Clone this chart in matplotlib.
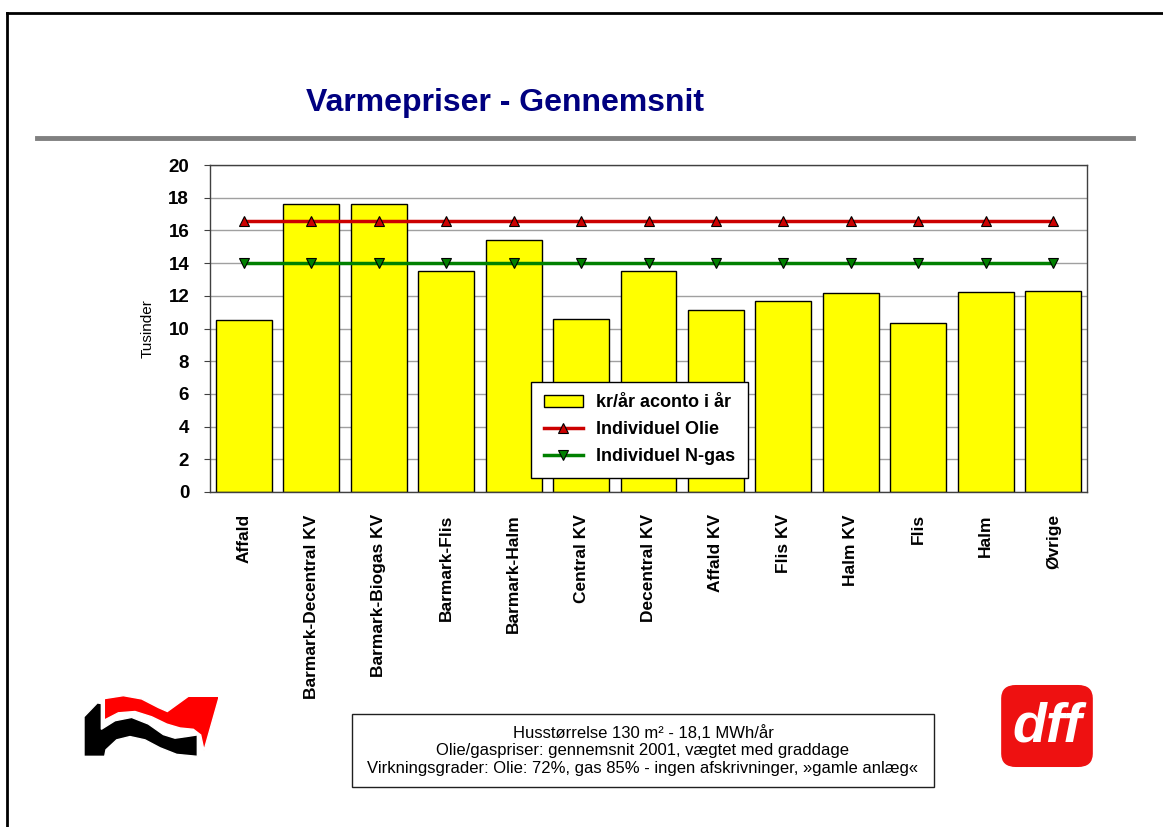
import matplotlib
matplotlib.use("Agg")
import matplotlib.pyplot as plt
from matplotlib.patches import Polygon, FancyBboxPatch, Rectangle
from matplotlib.lines import Line2D
import numpy as np

plt.rcParams['font.family'] = ['Liberation Sans', 'DejaVu Sans']

# data
categories = ['Affald', 'Barmark-Decentral KV', 'Barmark-Biogas KV', 'Barmark-Flis',
              'Barmark-Halm', 'Central KV', 'Decentral KV', 'Affald KV', 'Flis KV',
              'Halm KV', 'Flis', 'Halm', 'Øvrige']
aconto = [10.52, 17.6, 17.6, 13.54, 15.41, 10.58, 13.5, 11.11, 11.66, 12.19, 10.36, 12.21, 12.27]
olie = [16.6] * 13
ngas = [14.03] * 13

fig = plt.figure(figsize=(11.63, 8.27), dpi=100)

# axes placement in pixels of the 1163x827 canvas
W, H = 1163, 827
ax = fig.add_axes([210 / W, 1 - 492 / H, 877 / W, 327 / H])

x = np.arange(len(categories))
b = ax.bar(x, aconto, width=0.83, color='#FFFF00', edgecolor='black', linewidth=1,
           label='kr/år aconto i år', zorder=2)
l1, = ax.plot(x, olie, color='#CC0000', lw=2.5, marker='^', ms=7, mfc='#CC0000', mec='black',
              mew=0.8, label='Individuel Olie', zorder=3)
l2, = ax.plot(x, ngas, color='#008000', lw=2.5, marker='v', ms=7, mfc='#008000', mec='black',
              mew=0.8, label='Individuel N-gas', zorder=3)

ax.set_xlim(-0.5, len(categories) - 0.5)
ax.set_ylim(0, 20)
ax.set_yticks(range(0, 21, 2))
ax.yaxis.grid(True, color='#A0A0A0', lw=1, zorder=0)
ax.set_axisbelow(True)
ax.set_xticks(x)
ax.set_xticklabels(categories, rotation=90, fontsize=12.5, fontweight='bold', va='top')
for lbl in ax.get_yticklabels():
    lbl.set_fontweight('bold')
ax.tick_params(axis='y', labelsize=13.5, length=4, pad=11, color='#404040')
ax.tick_params(axis='x', length=0, pad=16)
for s in ax.spines.values():
    s.set_color('#404040')
    s.set_linewidth(1)
ax.set_ylabel('Tusinder', fontsize=11, labelpad=10)

leg = ax.legend([b, l1, l2], ['kr/år aconto i år', 'Individuel Olie', 'Individuel N-gas'],
                loc='lower left', bbox_to_anchor=(0.366, 0.043), borderaxespad=0,
                fancybox=False, edgecolor='black', framealpha=1,
                prop={'weight': 'bold', 'size': 13},
                handlelength=2.2, handletextpad=0.7, borderpad=0.7, labelspacing=0.55)
leg.get_frame().set_linewidth(1)

# title and rule
fig.text(505 / W, 1 - 103 / H, 'Varmepriser - Gennemsnit', color='#000080',
         fontsize=23, fontweight='bold', ha='center', va='center')
fig.add_artist(Line2D([37 / W, 1133 / W], [1 - 138 / H, 1 - 138 / H],
                      color='#808080', lw=3.5))

# page border (top and left only visible)
fig.add_artist(Line2D([7 / W, 7 / W], [0, 1 - 13 / H], color='black', lw=2))
fig.add_artist(Line2D([7 / W, 1], [1 - 13 / H, 1 - 13 / H], color='black', lw=2))

# note box
fig.add_artist(Rectangle((352 / W, 1 - 787 / H), 582 / W, 73 / H, transform=fig.transFigure,
                         facecolor='white', edgecolor='#202020', lw=1))
notes = ['Husstørrelse 130 m² - 18,1 MWh/år',
         'Olie/gaspriser: gennemsnit 2001, vægtet med graddage',
         'Virkningsgrader: Olie: 72%, gas 85% - ingen afskrivninger, »gamle anlæg«']
for i, t in enumerate(notes):
    fig.text(643 / W, 1 - (733 + 17.5 * i) / H, t, fontsize=12, ha='center', va='center')

# left logo
lg = fig.add_axes([83 / W, 1 - 757 / H, 135 / W, 62 / H])
lg.set_xlim(69, 474)
lg.set_ylim(272, 84)
lg.axis('off')
red = [(133, 95), (190, 86), (245, 96), (295, 122), (322, 134), (385, 88), (478, 88),
       (432, 252), (422, 205), (400, 188), (360, 184), (320, 172), (275, 150), (225, 134),
       (175, 138), (133, 160)]
black = [(72, 150), (112, 108), (124, 110), (124, 188), (165, 162), (215, 152), (265, 172),
         (310, 204), (345, 215), (380, 210), (412, 205), (412, 270), (350, 264), (300, 244),
         (255, 220), (210, 210), (170, 220), (138, 250), (134, 270), (72, 270)]
lg.add_patch(Polygon(red, closed=True, facecolor='#FF0000', edgecolor='white', lw=1))
lg.add_patch(Polygon(black, closed=True, facecolor='black', edgecolor='white', lw=1))

# right logo
rg = fig.add_axes([1000 / W, 1 - 768 / H, 94 / W, 84 / H])
rg.set_xlim(0, 1)
rg.set_ylim(0, 1)
rg.axis('off')
rg.add_patch(FancyBboxPatch((0.02, 0.02), 0.96, 0.96, boxstyle='round,pad=0,rounding_size=0.15',
                            color='#EE1111'))
rg.text(0.5, 0.48, 'dff', color='white', fontsize=40, fontweight='bold', style='italic',
        ha='center', va='center')

fig.savefig('out.png', dpi=100)
